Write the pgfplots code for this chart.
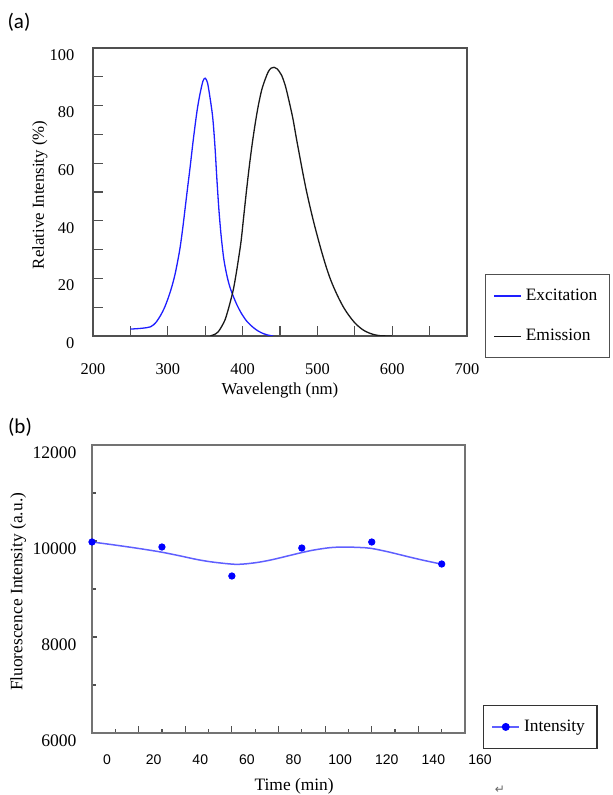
\documentclass[border=0pt]{standalone}
\usepackage{fontspec}
\setmainfont{Liberation Serif}
\setsansfont{Liberation Sans}
\newfontfamily\calibri{Carlito}
\newfontfamily\dejavu{DejaVu Sans}
\usepackage{pgfplots}
\usepackage{pgfplotstable}
\pgfplotsset{compat=1.18}
\pgfplotsset{/pgf/number format/assume math mode=true}

\definecolor{frame}{RGB}{80,80,80}
\definecolor{exc}{RGB}{30,30,255}
\definecolor{emi}{RGB}{25,25,25}
\definecolor{fit}{RGB}{95,95,255}

% (a) spectra
\pgfplotstableread{
wl    val
250   2.4
262   2.6
272   2.9
277   3.2
281   3.9
285   5.0
290   7.0
295   9.5
300   12.8
305   16.8
310   21.8
316   30.0
320   37.5
323   44.0
326   50.5
330   59.0
334   68.0
339   78.0
343   84.0
347   88.5
350   89.5
353   88.0
356   83.5
360   76.0
363   66.0
365.5 55.0
368   45.0
370   38.5
372   33.0
375   26.5
379   21.0
383   17.0
388   13.5
393   10.5
399   7.6
406   5.0
414   3.0
421   1.7
428   0.8
435   0.25
441   0.0
}\excitation

\pgfplotstableread{
wl    val
357   0.0
359   0.2
363   0.6
367.5 1.5
372   3.3
376.5 5.6
380   8.5
383   11.3
387.5 16.0
391   21.0
394.3 26.4
398   33.0
401   40.3
405   50.0
409   59.0
413   67.0
417   74.0
421   80.0
425.5 85.4
430   89.0
434.4 91.8
438   93.0
442   93.3
446   92.8
452   90.6
457   87.0
461   82.8
467   75.8
472   68.5
477   61.5
481   56.0
485   50.8
490   45.0
495   39.6
499   35.6
504   30.8
508   27.2
512   23.8
517   20.0
522   16.8
528   13.4
534   10.4
539   8.3
546   5.8
552.5 3.9
560   2.3
566   1.4
574   0.6
584   0.1
600   0.0
}\emission

% (b) stability over time
\pgfplotstableread{
t    I
0    9980
30   9875
60   9271
90   9854
120  9979
150  9521
}\measured

\pgfplotstableread{
t     I
0     9980
10    9915
20    9845
29.6  9770
37.8  9690
45    9615
52    9560
62    9514
70    9547
76    9598
80.7  9650
85    9701
89.7  9756
95    9811
102   9861
108   9875
115   9865
119.7 9847
127   9775
135   9680
142   9600
149.7 9521
}\fitted

\begin{document}
\begin{tikzpicture}
\path[use as bounding box] (0,0) rectangle (306.5pt,-397.5pt);

\node[font=\calibri\fontsize{10.5}{12}\selectfont] at (9.5pt,-11pt) {(a)};
\node[font=\calibri\fontsize{10.5}{12}\selectfont] at (10pt,-213.5pt) {(b)};

\begin{axis}[
  at={(46.5pt,-168pt)}, anchor=south west,
  scale only axis, width=187pt, height=144pt,
  xmin=200, xmax=700, ymin=0, ymax=100,
  xtick={200,300,...,700}, ytick={0,20,...,100},
  minor x tick num=1, minor y tick num=1,
  xtick pos=bottom, ytick pos=left, tick align=inside,
  major tick length=5.2pt, minor tick length=5.2pt,
  every tick/.style={frame, line width=0.6pt},
  axis line style={frame, line width=0.9pt},
  tick label style={font=\fontsize{8.2}{9.8}\selectfont},
  xticklabel style={yshift=-10.5pt},
  yticklabel style={xshift=-5.8pt, yshift=-3.5pt},
  label style={font=\fontsize{8.4}{10}\selectfont},
  xlabel={Wavelength (nm)},
  xlabel style={at={(axis description cs:0.5,-0.1875)}, anchor=center},
  ylabel={Relative Intensity (\%)},
  ylabel style={at={(axis description cs:-0.142,0.49)}, anchor=center},
  legend style={at={(axis description cs:1.048,0.215)}, anchor=north west,
    draw=frame, line width=0.6pt, fill=white,
    font=\fontsize{8.7}{10}\selectfont,
    row sep=9pt, inner xsep=4pt, inner ysep=5pt},
  legend cell align=left,
  legend image code/.code={\draw[#1] (0pt,0pt) -- (13.5pt,0pt);},
]
\addplot[exc, line width=0.65pt, smooth] table[x=wl, y=val] {\excitation};
\addlegendentry{Excitation}
\addplot[emi, line width=0.65pt, smooth] table[x=wl, y=val] {\emission};
\addlegendentry{Emission}
\end{axis}

\begin{axis}[
  at={(46pt,-366.5pt)}, anchor=south west,
  scale only axis, width=186.5pt, height=144pt,
  xmin=0, xmax=160, ymin=6000, ymax=12000,
  xtick={0,20,...,160}, ytick={6000,8000,...,12000},
  minor x tick num=1, minor y tick num=1,
  scaled y ticks=false,
  /pgf/number format/1000 sep={},
  xtick pos=bottom, ytick pos=left, tick align=inside,
  every tick/.style={frame, line width=0.6pt},
  major tick length=3.5pt, minor tick length=2.2pt,
  ytick style={/pgfplots/major tick length=2.6pt},
  axis line style={frame!80, line width=0.7pt},
  clip=false,
  xticklabel style={font=\sffamily\fontsize{7}{8}\selectfont, xshift=7.5pt, yshift=-7.5pt},
  yticklabel style={font=\fontsize{8.8}{10}\selectfont, xshift=-4.2pt, yshift=-3.8pt},
  label style={font=\fontsize{8.7}{10}\selectfont},
  xlabel={Time (min)},
  xlabel style={at={(axis description cs:0.542,-0.184)}, anchor=center},
  ylabel={Fluorescence Intensity (a.u.)},
  ylabel style={at={(axis description cs:-0.198,0.49)}, anchor=center},
  legend style={at={(axis description cs:1.048,0.097)}, anchor=north west,
    draw=black!80, line width=0.6pt, fill=white,
    font=\fontsize{8.7}{10}\selectfont,
    inner xsep=4pt, inner ysep=5pt},
  legend image code/.code={\draw[#1, mark repeat=2, mark phase=2]
    plot coordinates {(0pt,0pt) (6.75pt,0pt) (13.5pt,0pt)};},
]
\addplot[fit, line width=0.75pt, smooth, forget plot] table[x=t, y=I] {\fitted};
\addplot[only marks, mark=*, mark size=1.6pt, color=blue, forget plot] table[x=t, y=I] {\measured};
\addlegendimage{fit, line width=0.75pt, mark=*, mark size=1.6pt, mark options={blue, fill=blue}}
\addlegendentry{Intensity}
\end{axis}

\node[font=\dejavu\fontsize{6}{7}\selectfont, text=black!60] at (250pt,-395pt) {↵};
\end{tikzpicture}
\end{document}
